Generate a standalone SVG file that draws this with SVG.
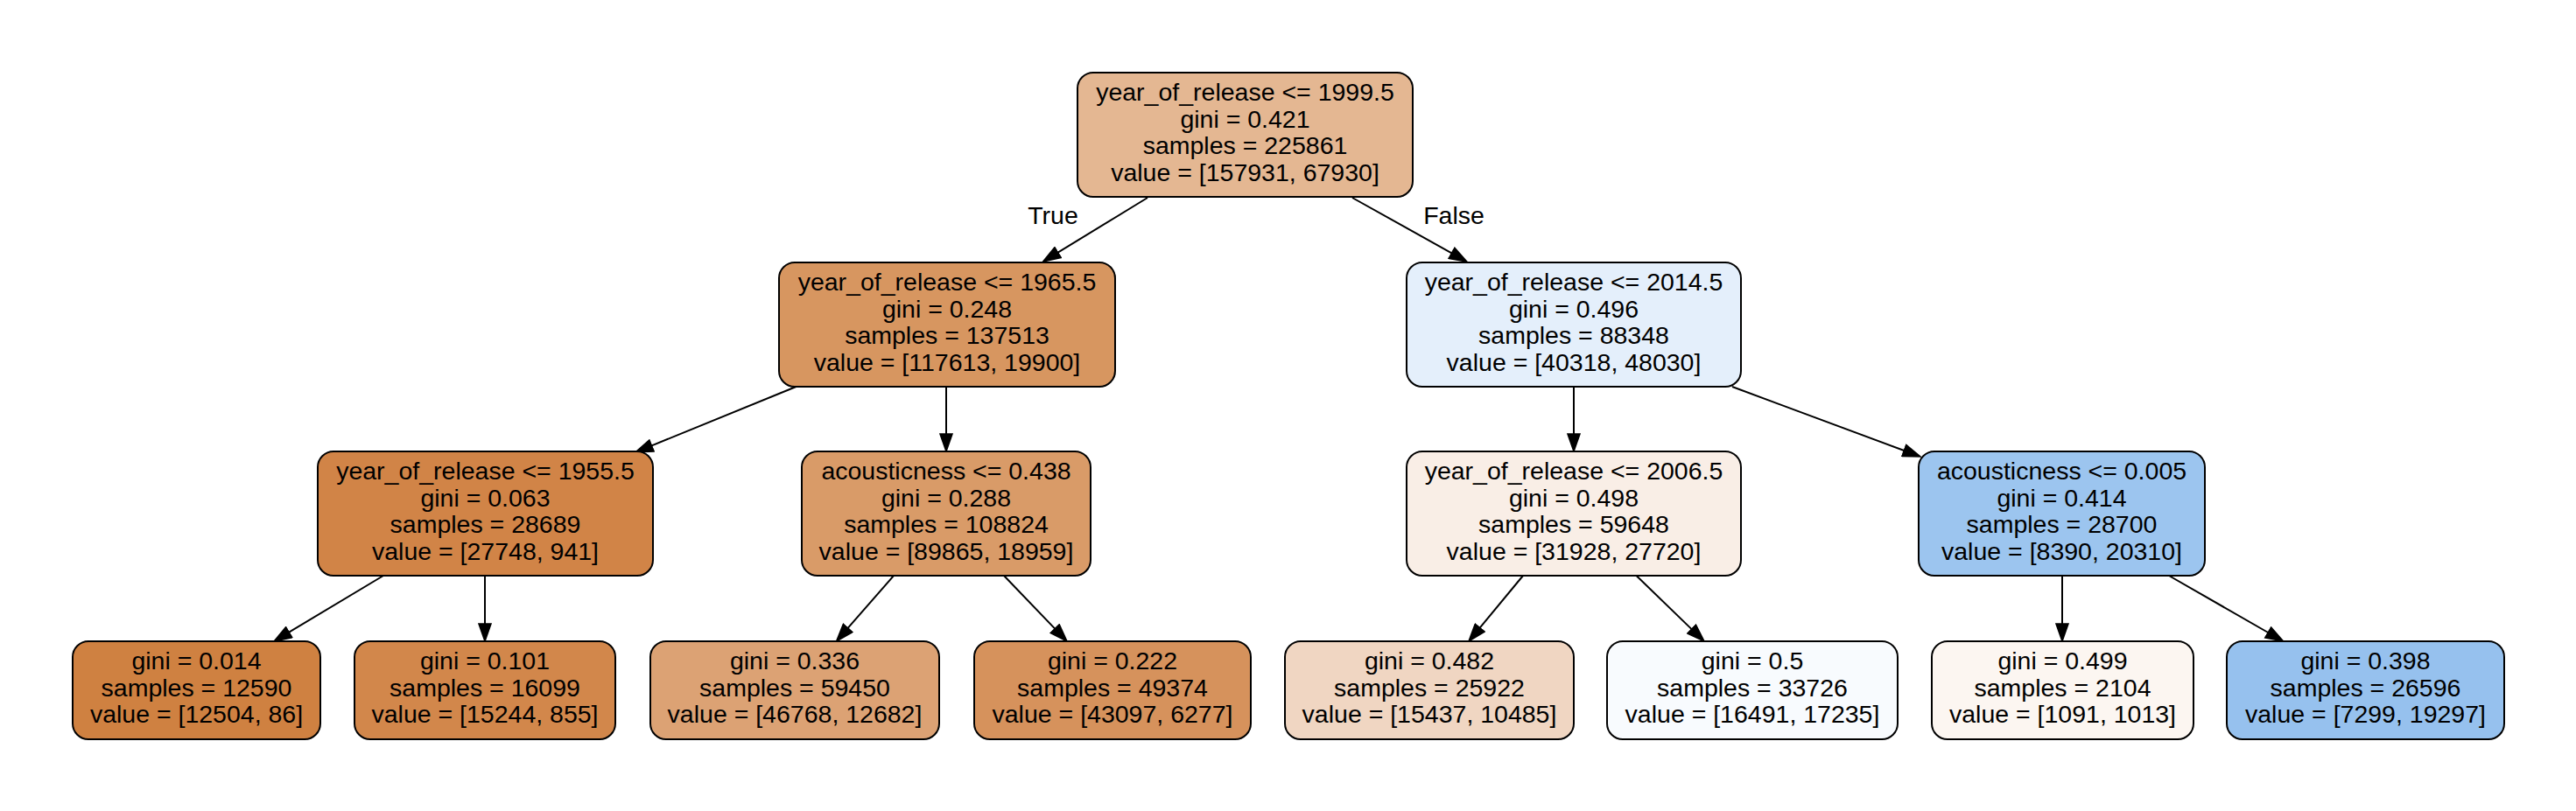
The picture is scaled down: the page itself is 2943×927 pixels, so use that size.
<svg xmlns="http://www.w3.org/2000/svg" width="2943" height="927" viewBox="0 0 2943 927">
<style>
.n rect { stroke:#000; stroke-width:2; }
text { font-family:"Liberation Sans", Arial, Helvetica, sans-serif; font-size:28.5px; fill:#000; text-anchor:middle; }
.e line { stroke:#000; stroke-width:2; fill:none; marker-end:url(#ah); }
</style>
<defs>
<marker id="ah" markerUnits="userSpaceOnUse" markerWidth="22" markerHeight="16" viewBox="0 0 22 16" refX="1" refY="8" orient="auto">
<path d="M1,1 L21,8 L1,15 z" fill="#000" stroke="#000" stroke-width="1.5"/>
</marker>
</defs>
<rect x="0" y="0" width="2943" height="927" fill="#fff"/>
<g id="edges" class="e">
<line x1="1311" y1="226" x2="1208.6" y2="288.6"/>
<line x1="1545" y1="226" x2="1658.5" y2="289.3"/>
<line x1="909.5" y1="442" x2="744.5" y2="509.4"/>
<line x1="1081" y1="443" x2="1081" y2="496"/>
<line x1="1798" y1="443" x2="1798" y2="496"/>
<line x1="1979" y1="442" x2="2175.3" y2="515"/>
<line x1="438" y1="658" x2="330.2" y2="722.7"/>
<line x1="554" y1="658" x2="554" y2="713"/>
<line x1="1021" y1="658" x2="968.7" y2="717.9"/>
<line x1="1147" y1="658" x2="1205.2" y2="718.6"/>
<line x1="1740" y1="658" x2="1690.7" y2="717.6"/>
<line x1="1869.5" y1="658" x2="1932.6" y2="719.1"/>
<line x1="2356" y1="658" x2="2356" y2="713"/>
<line x1="2478" y1="658" x2="2591.2" y2="723"/>
<text x="1203" y="256">True</text>
<text x="1661" y="256">False</text>
</g>
<g id="node0" class="n">
<rect x="1231" y="83" width="383" height="142" rx="18" fill="#e4b792"/>
<text x="1422.5" y="115">year_of_release &lt;= 1999.5</text>
<text x="1422.5" y="145.7">gini = 0.421</text>
<text x="1422.5" y="176.4">samples = 225861</text>
<text x="1422.5" y="207">value = [157931, 67930]</text>
</g>
<g id="node1" class="n">
<rect x="890" y="300" width="384" height="142" rx="18" fill="#d79660"/>
<text x="1082" y="332">year_of_release &lt;= 1965.5</text>
<text x="1082" y="362.7">gini = 0.248</text>
<text x="1082" y="393.4">samples = 137513</text>
<text x="1082" y="424">value = [117613, 19900]</text>
</g>
<g id="node2" class="n">
<rect x="1607" y="300" width="382" height="142" rx="18" fill="#e4effb"/>
<text x="1798" y="332">year_of_release &lt;= 2014.5</text>
<text x="1798" y="362.7">gini = 0.496</text>
<text x="1798" y="393.4">samples = 88348</text>
<text x="1798" y="424">value = [40318, 48030]</text>
</g>
<g id="node3" class="n">
<rect x="363" y="516" width="383" height="142" rx="18" fill="#d18447"/>
<text x="554.5" y="548">year_of_release &lt;= 1955.5</text>
<text x="554.5" y="578.7">gini = 0.063</text>
<text x="554.5" y="609.4">samples = 28689</text>
<text x="554.5" y="640">value = [27748, 941]</text>
</g>
<g id="node4" class="n">
<rect x="916" y="516" width="330" height="142" rx="18" fill="#d99b68"/>
<text x="1081" y="548">acousticness &lt;= 0.438</text>
<text x="1081" y="578.7">gini = 0.288</text>
<text x="1081" y="609.4">samples = 108824</text>
<text x="1081" y="640">value = [89865, 18959]</text>
</g>
<g id="node5" class="n">
<rect x="1607" y="516" width="382" height="142" rx="18" fill="#f9eee6"/>
<text x="1798" y="548">year_of_release &lt;= 2006.5</text>
<text x="1798" y="578.7">gini = 0.498</text>
<text x="1798" y="609.4">samples = 59648</text>
<text x="1798" y="640">value = [31928, 27720]</text>
</g>
<g id="node6" class="n">
<rect x="2192" y="516" width="327" height="142" rx="18" fill="#9cc5ef"/>
<text x="2355.5" y="548">acousticness &lt;= 0.005</text>
<text x="2355.5" y="578.7">gini = 0.414</text>
<text x="2355.5" y="609.4">samples = 28700</text>
<text x="2355.5" y="640">value = [8390, 20310]</text>
</g>
<g id="leaf1" class="n">
<rect x="83" y="733" width="283" height="112" rx="18" fill="#cf8141"/>
<text x="224.5" y="765">gini = 0.014</text>
<text x="224.5" y="795.7">samples = 12590</text>
<text x="224.5" y="826.4">value = [12504, 86]</text>
</g>
<g id="leaf2" class="n">
<rect x="405" y="733" width="298" height="112" rx="18" fill="#d2874b"/>
<text x="554" y="765">gini = 0.101</text>
<text x="554" y="795.7">samples = 16099</text>
<text x="554" y="826.4">value = [15244, 855]</text>
</g>
<g id="leaf3" class="n">
<rect x="743" y="733" width="330" height="112" rx="18" fill="#dca274"/>
<text x="908" y="765">gini = 0.336</text>
<text x="908" y="795.7">samples = 59450</text>
<text x="908" y="826.4">value = [46768, 12682]</text>
</g>
<g id="leaf4" class="n">
<rect x="1113" y="733" width="316" height="112" rx="18" fill="#d6925c"/>
<text x="1271" y="765">gini = 0.222</text>
<text x="1271" y="795.7">samples = 49374</text>
<text x="1271" y="826.4">value = [43097, 6277]</text>
</g>
<g id="leaf5" class="n">
<rect x="1468" y="733" width="330" height="112" rx="18" fill="#f0d6c2"/>
<text x="1633" y="765">gini = 0.482</text>
<text x="1633" y="795.7">samples = 25922</text>
<text x="1633" y="826.4">value = [15437, 10485]</text>
</g>
<g id="leaf6" class="n">
<rect x="1836" y="733" width="332" height="112" rx="18" fill="#f8fbfe"/>
<text x="2002" y="765">gini = 0.5</text>
<text x="2002" y="795.7">samples = 33726</text>
<text x="2002" y="826.4">value = [16491, 17235]</text>
</g>
<g id="leaf7" class="n">
<rect x="2207" y="733" width="299" height="112" rx="18" fill="#fcf6f1"/>
<text x="2356.5" y="765">gini = 0.499</text>
<text x="2356.5" y="795.7">samples = 2104</text>
<text x="2356.5" y="826.4">value = [1091, 1013]</text>
</g>
<g id="leaf8" class="n">
<rect x="2544" y="733" width="317" height="112" rx="18" fill="#96c1ee"/>
<text x="2702.5" y="765">gini = 0.398</text>
<text x="2702.5" y="795.7">samples = 26596</text>
<text x="2702.5" y="826.4">value = [7299, 19297]</text>
</g>
</svg>
